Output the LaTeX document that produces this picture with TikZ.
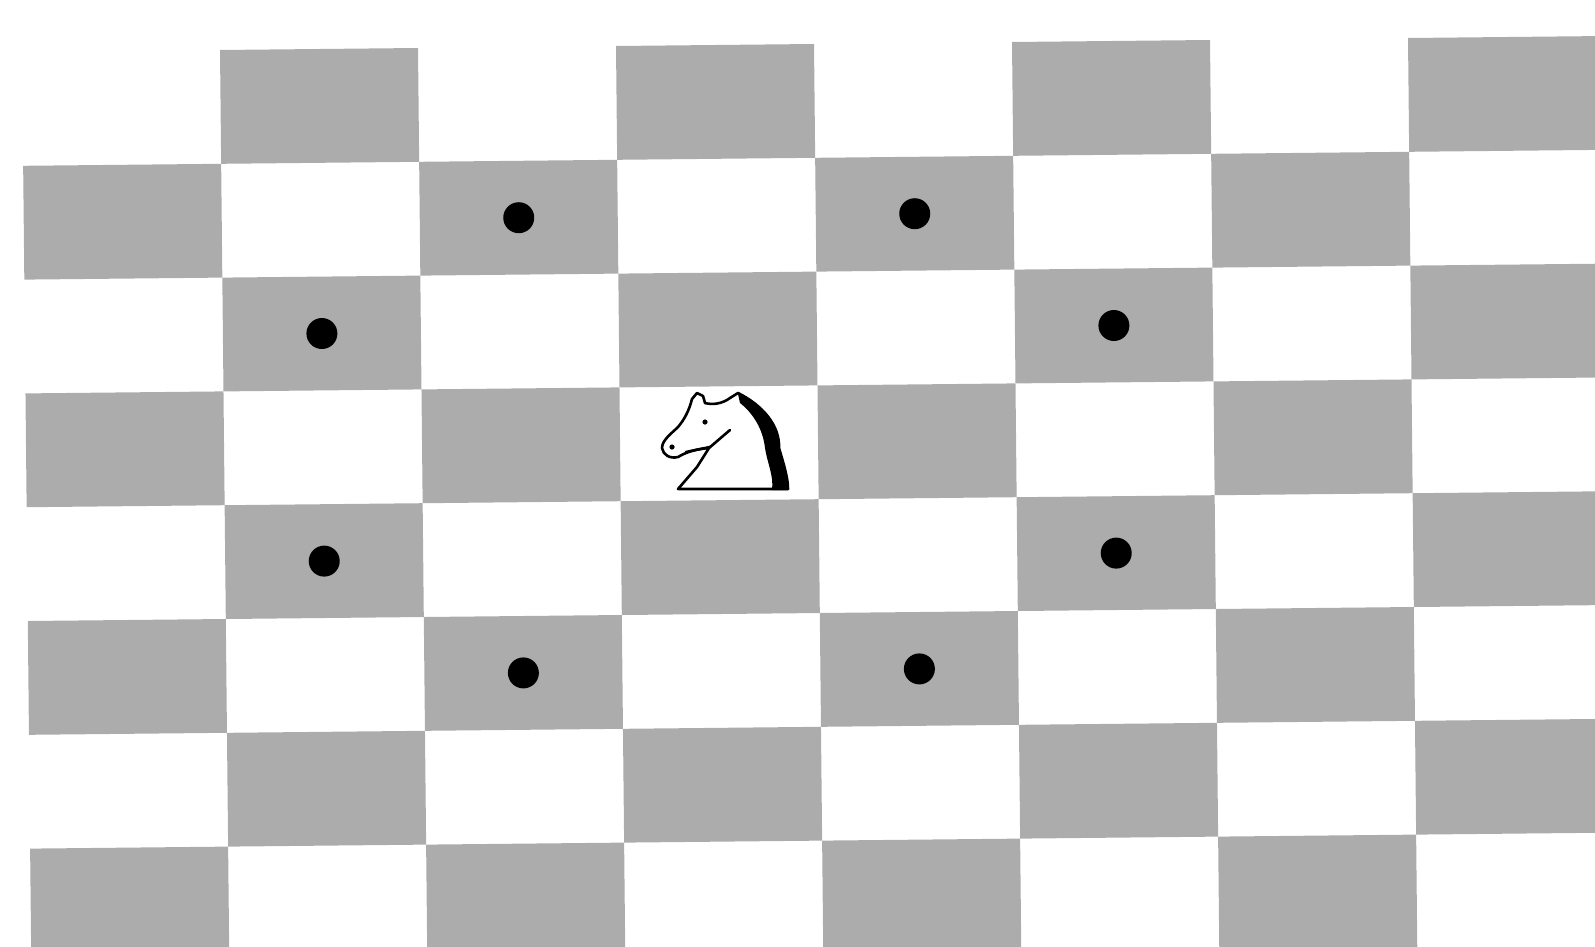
\documentclass[tikz,border=0pt]{standalone}
\begin{document}
\definecolor{boardgray}{RGB}{172,172,172}
\begin{tikzpicture}[
  darksq/.style={fill=boardgray},
  movedot/.style={circle, fill=black, inner sep=0pt, minimum size=31pt},
  knightline/.style={draw=black, line width=2.6pt, line join=round, line cap=round}
]
\useasboundingbox (0pt,0pt) rectangle (1595pt,-946pt);
\clip (0pt,0pt) rectangle (1595pt,-946pt);
% board frame: one unit per square, slightly tilted
\begin{scope}[shift={(22pt,-52pt)}, x={(198pt,2pt)}, y={(1.16pt,-113.8pt)}]
  \foreach \r in {0,...,7} {
    \foreach \c in {0,...,7} {
      \pgfmathtruncatemacro{\odd}{mod(\r+\c,2)}
      \ifnum\odd=1
        \fill[darksq] (\c,\r) -- ++(1,0) -- ++(0,1) -- ++(-1,0) -- cycle;
      \fi
    }
  }
  % squares the knight can reach
  \node[movedot] (m12) at (2.5,1.5) {};
  \node[movedot] (m14) at (4.5,1.5) {};
  \node[movedot] (m21) at (1.5,2.5) {};
  \node[movedot] (m25) at (5.5,2.5) {};
  \node[movedot] (m41) at (1.5,4.5) {};
  \node[movedot] (m45) at (5.5,4.5) {};
  \node[movedot] (m52) at (2.5,5.5) {};
  \node[movedot] (m54) at (4.5,5.5) {};
\end{scope}
% the knight, drawn in pixel units
\begin{scope}[x=1pt, y=-1pt]
  \coordinate (knight) at (722,442);
  % head outline
  \filldraw[knightline, fill=white]
    (678,489) -- (697,467) -- (709,448)
    .. controls (698,449) and (688,451) .. (678,457)
    .. controls (670,459) and (663,455) .. (662,448)
    .. controls (662,440) and (672,433) .. (678,427)
    .. controls (684,420) and (689,411) .. (692,399)
    -- (697,393) -- (703,396) -- (705,403)
    .. controls (712,405) and (722,404) .. (730,398)
    -- (738,393)
    .. controls (762,405) and (780,425) .. (779,448)
    .. controls (784,465) and (788,478) .. (788,489)
    -- cycle;
  % mane
  \fill[black]
    (738,394)
    .. controls (762,405) and (780,425) .. (779,448)
    .. controls (784,465) and (788,478) .. (788,490)
    -- (772,490)
    .. controls (774,476) and (767,462) .. (765,448)
    .. controls (763,430) and (754,414) .. (740,403)
    -- cycle;
  % jaw line, mouth, eye and nostril
  \draw[knightline] (709,448) -- (730,430);
  \draw[knightline] (686,452) -- (710,447);
  \fill (705,422) circle (2.6pt);
  \fill (672,447) circle (2.6pt);
\end{scope}
\end{tikzpicture}
\end{document}
